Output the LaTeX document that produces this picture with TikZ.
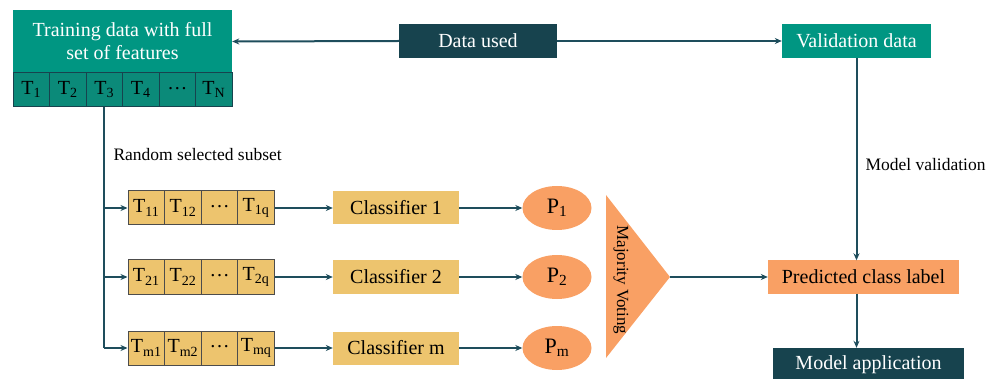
\documentclass[tikz,border=0pt]{standalone}
\usepackage{fontspec}
\setmainfont{Liberation Serif}
\usetikzlibrary{shapes.geometric}
\usetikzlibrary{arrows.meta}
\definecolor{tealbox}{HTML}{009682}
\definecolor{tealcell}{HTML}{0B8A79}
\definecolor{darkbox}{HTML}{17434E}
\definecolor{linecol}{HTML}{1E4D5C}
\definecolor{goldbox}{HTML}{EDC46E}
\definecolor{orangebox}{HTML}{F9A064}

\begin{document}
\begin{tikzpicture}[x=1pt,y=-1pt] %% tikz
	\tikzstyle{box}=[rectangle,inner sep=0pt,font=\fontsize{20}{23}\selectfont];
	\tikzstyle{tcell}=[box,fill=tealcell,draw=darkbox,line width=1pt,minimum width=36.5pt,minimum height=34pt];
	\tikzstyle{gcell}=[box,fill=goldbox,draw=black!70,line width=1pt,minimum width=36.6pt,minimum height=34pt];
	\tikzstyle{clf}=[box,fill=goldbox,minimum width=126pt,minimum height=33pt];
	\tikzstyle{pred}=[ellipse,fill=orangebox,inner sep=0pt,minimum width=69pt,minimum height=44pt,font=\fontsize{22}{24}\selectfont];
	\tikzstyle{arr}=[draw=linecol,line width=2pt,-{Stealth[length=7pt,width=6pt]}];
	\tikzstyle{note}=[font=\fontsize{17.5}{20}\selectfont,anchor=west];
	\useasboundingbox (0,0) rectangle (998,379);
	%% training data
	\node[box,fill=tealbox,text=white,minimum width=219pt,minimum height=63pt,align=center] (train) at (122.5,41.5) {Training data with full\\set of features};
	\foreach \i/\s in {1/1,2/2,3/3,4/4,6/N}
		\node[tcell] (t\i) at (13+36.5*\i-18.25,89.5) {T\textsubscript{\s}};
	\node[tcell] (t5) at (13+36.5*5-18.25,89.5) {\raisebox{0.3ex}{\dots}};
	%% top row
	\node[box,fill=darkbox,text=white,minimum width=158pt,minimum height=34pt] (used) at (478,41) {Data used};
	\node[box,fill=tealbox,text=white,minimum width=149pt,minimum height=34pt] (valid) at (856.5,41) {Validation data};
	\draw[arr] (used.west) -- (train.east);
	\draw[arr] (used.east) -- (valid.west);
	\node[note] (subset) at (110,155) {Random selected subset};
	%% subsets, classifiers and predictions
	\foreach \r/\y/\a/\b/\c in {1/208/11/12/1q,2/277/21/22/2q,m/348/m1/m2/mq} {
		\node[gcell] (r\r-1) at (146.3,\y) {T\textsubscript{\a}};
		\node[gcell] (r\r-2) at (182.9,\y) {T\textsubscript{\b}};
		\node[gcell] (r\r-3) at (219.5,\y) {\raisebox{0.3ex}{\dots}};
		\node[gcell] (r\r-4) at (256.1,\y) {T\textsubscript{\c}};
		\node[clf] (c\r) at (396,\y) {Classifier \r};
		\node[pred] (p\r) at (557,\y) {P\textsubscript{\r}};
		\coordinate (b\r) at (t3.south |- r\r-1.west);
		\draw[arr] (b\r) -- (r\r-1.west);
		\draw[arr] (r\r-4.east) -- (c\r.west);
		\draw[arr] (c\r.east) -- (p\r.west);
	}
	\draw[draw=linecol,line width=2pt] (t3.south) -- (bm);
	%% voting
	\fill[orangebox] (606,195) -- (670,277) -- (606,358) -- cycle;
	\coordinate (apex) at (670,277);
	\node[font=\fontsize{17}{20}\selectfont,rotate=-90] (vote) at (621,280) {Majority Voting};
	\node[box,fill=orangebox,minimum width=191pt,minimum height=33pt] (label) at (863.5,277) {Predicted class label};
	\node[box,fill=darkbox,text=white,minimum width=191pt,minimum height=34pt] (apply) at (868.5,365) {Model application};
	\draw[arr] (apex) -- (label.west);
	\draw[arr] (valid.south) -- (valid.south |- label.north);
	\node[note] (mval) at (862,165) {Model validation};
	\draw[arr] (valid.south |- label.south) -- (valid.south |- apply.north);
\end{tikzpicture}
\end{document}
